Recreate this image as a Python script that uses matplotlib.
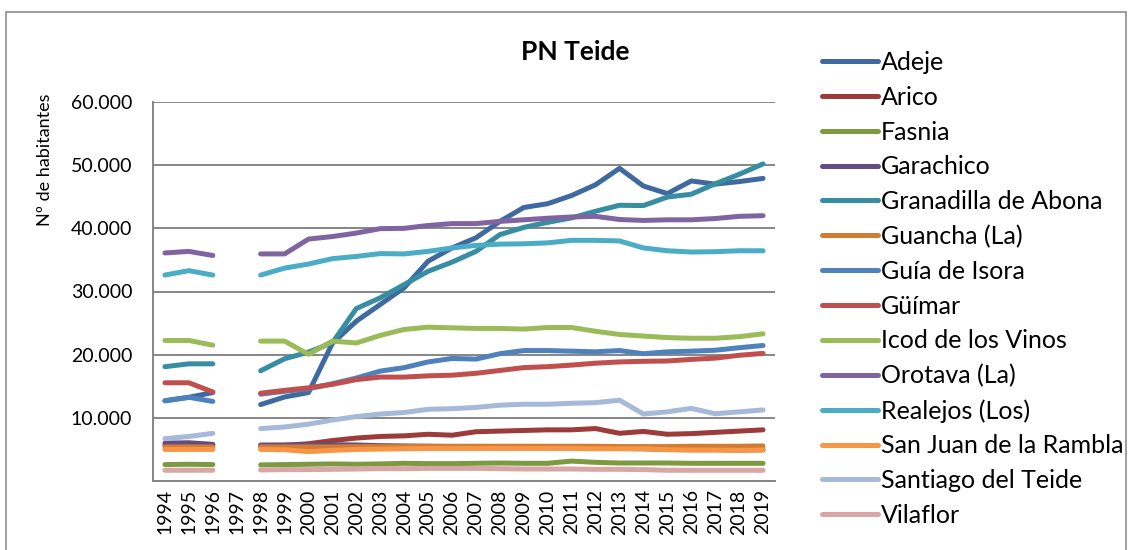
import numpy as np
import matplotlib
matplotlib.use("Agg")
import matplotlib.pyplot as plt
from matplotlib.ticker import FuncFormatter, MultipleLocator
from matplotlib.patches import Rectangle

plt.rcParams['font.family'] = ['Lato', 'DejaVu Sans']

nan = np.nan
years = list(range(1994, 2020))

adeje = [12700, 13250, 14000, nan, 12100, 13300, 14000, 21800, 25300, 27950, 30600, 34800, 36900,
         38500, 41100, 43300, 43900, 45200, 46900, 49500, 46700, 45500, 47500, 47000, 47400, 47900]
arico = [5700, 5700, 5700, nan, 5600, 5650, 5900, 6400, 6800, 7050, 7150, 7400, 7250,
         7800, 7900, 8000, 8100, 8100, 8300, 7550, 7850, 7400, 7500, 7700, 7900, 8100]
fasnia = [2600, 2650, 2600, nan, 2550, 2600, 2650, 2700, 2650, 2700, 2800, 2750, 2750,
          2800, 2850, 2800, 2800, 3150, 2950, 2850, 2850, 2850, 2800, 2800, 2800, 2800]
garachico = [6000, 6050, 5800, nan, 5700, 5700, 5700, 5750, 5700, 5600, 5550, 5500, 5450,
             5400, 5400, 5350, 5300, 5250, 5200, 5150, 5100, 5000, 4950, 4950, 4900, 4950]
granadilla = [18100, 18550, 18550, nan, 17450, 19350, 20400, 21900, 27300, 29000, 31100, 33200, 34650,
              36350, 39000, 40150, 40950, 41650, 42700, 43650, 43600, 44950, 45400, 47050, 48550, 50200]
guancha = [5400, 5400, 5400, nan, 5400, 5400, 5400, 5400, 5450, 5450, 5450, 5500, 5500,
           5500, 5500, 5500, 5500, 5500, 5500, 5450, 5450, 5450, 5500, 5500, 5500, 5550]
guia_isora = [12700, 13250, 12600, nan, 13750, 14200, 14600, 15400, 16300, 17400, 17950, 18850, 19400,
              19300, 20150, 20650, 20650, 20550, 20450, 20650, 20150, 20450, 20550, 20700, 21100, 21450]
guimar = [15550, 15550, 14100, nan, 13900, 14350, 14750, 15300, 16050, 16450, 16450, 16650, 16750,
          17050, 17500, 17950, 18100, 18350, 18650, 18850, 18950, 19000, 19250, 19450, 19900, 20200]
icod = [22250, 22250, 21500, nan, 22150, 22150, 20050, 22150, 21850, 23050, 24000, 24350, 24250,
        24150, 24150, 24050, 24300, 24300, 23700, 23200, 22950, 22700, 22600, 22600, 22850, 23300]
orotava = [36100, 36350, 35700, nan, 35950, 35950, 38300, 38700, 39250, 39950, 40000, 40450, 40750,
           40750, 41100, 41350, 41600, 41800, 41900, 41400, 41250, 41350, 41350, 41550, 41900, 42000]
realejos = [32600, 33300, 32600, nan, 32600, 33700, 34350, 35200, 35550, 36000, 35950, 36350, 36900,
            37300, 37500, 37550, 37700, 38100, 38100, 38000, 36900, 36450, 36250, 36300, 36450, 36450]
san_juan = [5000, 5000, 5000, nan, 5000, 4950, 4650, 4850, 5000, 5050, 5100, 5150, 5150,
            5150, 5150, 5150, 5150, 5150, 5100, 5100, 5100, 4950, 4900, 4900, 4850, 4900]
santiago = [6700, 7050, 7550, nan, 8300, 8550, 9000, 9650, 10200, 10600, 10850, 11350, 11450,
            11650, 12000, 12150, 12150, 12300, 12400, 12800, 10600, 10950, 11500, 10650, 10950, 11250]
vilaflor = [1700, 1700, 1700, nan, 1750, 1800, 1800, 1850, 1900, 1950, 1950, 2000, 2000,
            2000, 1950, 1900, 1900, 1900, 1850, 1850, 1800, 1700, 1700, 1700, 1700, 1700]

names = ["Adeje", "Arico", "Fasnia", "Garachico", "Granadilla de Abona", "Guancha (La)",
         "Guía de Isora", "Güímar", "Icod de los Vinos", "Orotava (La)", "Realejos (Los)",
         "San Juan de la Rambla", "Santiago del Teide", "Vilaflor"]
series = [adeje, arico, fasnia, garachico, granadilla, guancha, guia_isora, guimar, icod,
          orotava, realejos, san_juan, santiago, vilaflor]
colors = ["#3E6A9F", "#9C3C3A", "#7D9A41", "#634C82", "#378DA1", "#D27C33",
          "#4F81BD", "#C0504D", "#9BBB59", "#8064A2", "#4BACC6", "#F79646",
          "#A7B9D8", "#D8A6A5"]

W, H = 1129, 550
fig = plt.figure(figsize=(W / 100, H / 100), dpi=100)
ax = fig.add_axes([153 / W, 1 - 481 / H, (775 - 153) / W, (481 - 102) / H])

# outer chart frame
fig.patches.append(Rectangle((6 / W, -0.05), (1126 - 6) / W, 1 - 12 / H + 0.05,
                             transform=fig.transFigure, fill=False,
                             edgecolor="#8C8C8C", linewidth=1.2))

x = np.arange(len(years))
for vals, name, col in zip(series, names, colors):
    ax.plot(x, vals, color=col, linewidth=3.6, label=name,
            solid_capstyle="round", solid_joinstyle="round")

ax.set_xlim(-0.5, len(years) - 0.5)
ax.set_ylim(0, 60000)
ax.yaxis.set_major_locator(MultipleLocator(10000))
ax.yaxis.set_major_formatter(FuncFormatter(
    lambda v, p: "" if v == 0 else f"{int(v):,}".replace(",", ".")))
ax.set_xticks(x)
ax.set_xticklabels([str(y) for y in years], rotation=90)
ax.tick_params(axis="both", length=0, labelsize=14, colors="#000000")
ax.tick_params(axis="y", pad=15)
ax.tick_params(axis="x", pad=6)
ax.grid(axis="y", color="#868686", linewidth=1.4)
ax.set_axisbelow(True)
for s in ["top", "right"]:
    ax.spines[s].set_visible(False)
for s in ["left", "bottom"]:
    ax.spines[s].set_color("#868686")
    ax.spines[s].set_linewidth(1.4)

fig.text(575 / W, 1 - 52 / H, "PN Teide", ha="center", va="center",
         fontsize=19, fontweight="bold")
fig.text(45 / W, 1 - 160 / H, "Nº de habitantes", ha="center", va="center",
         rotation=90, fontsize=13)

fig.legend(loc="upper left", bbox_to_anchor=(812 / W, 1 - 41 / H), frameon=False,
           fontsize=18, handlelength=2.25, handletextpad=0.1, labelspacing=0.47,
           borderaxespad=0)

fig.savefig("out.png", dpi=100)
